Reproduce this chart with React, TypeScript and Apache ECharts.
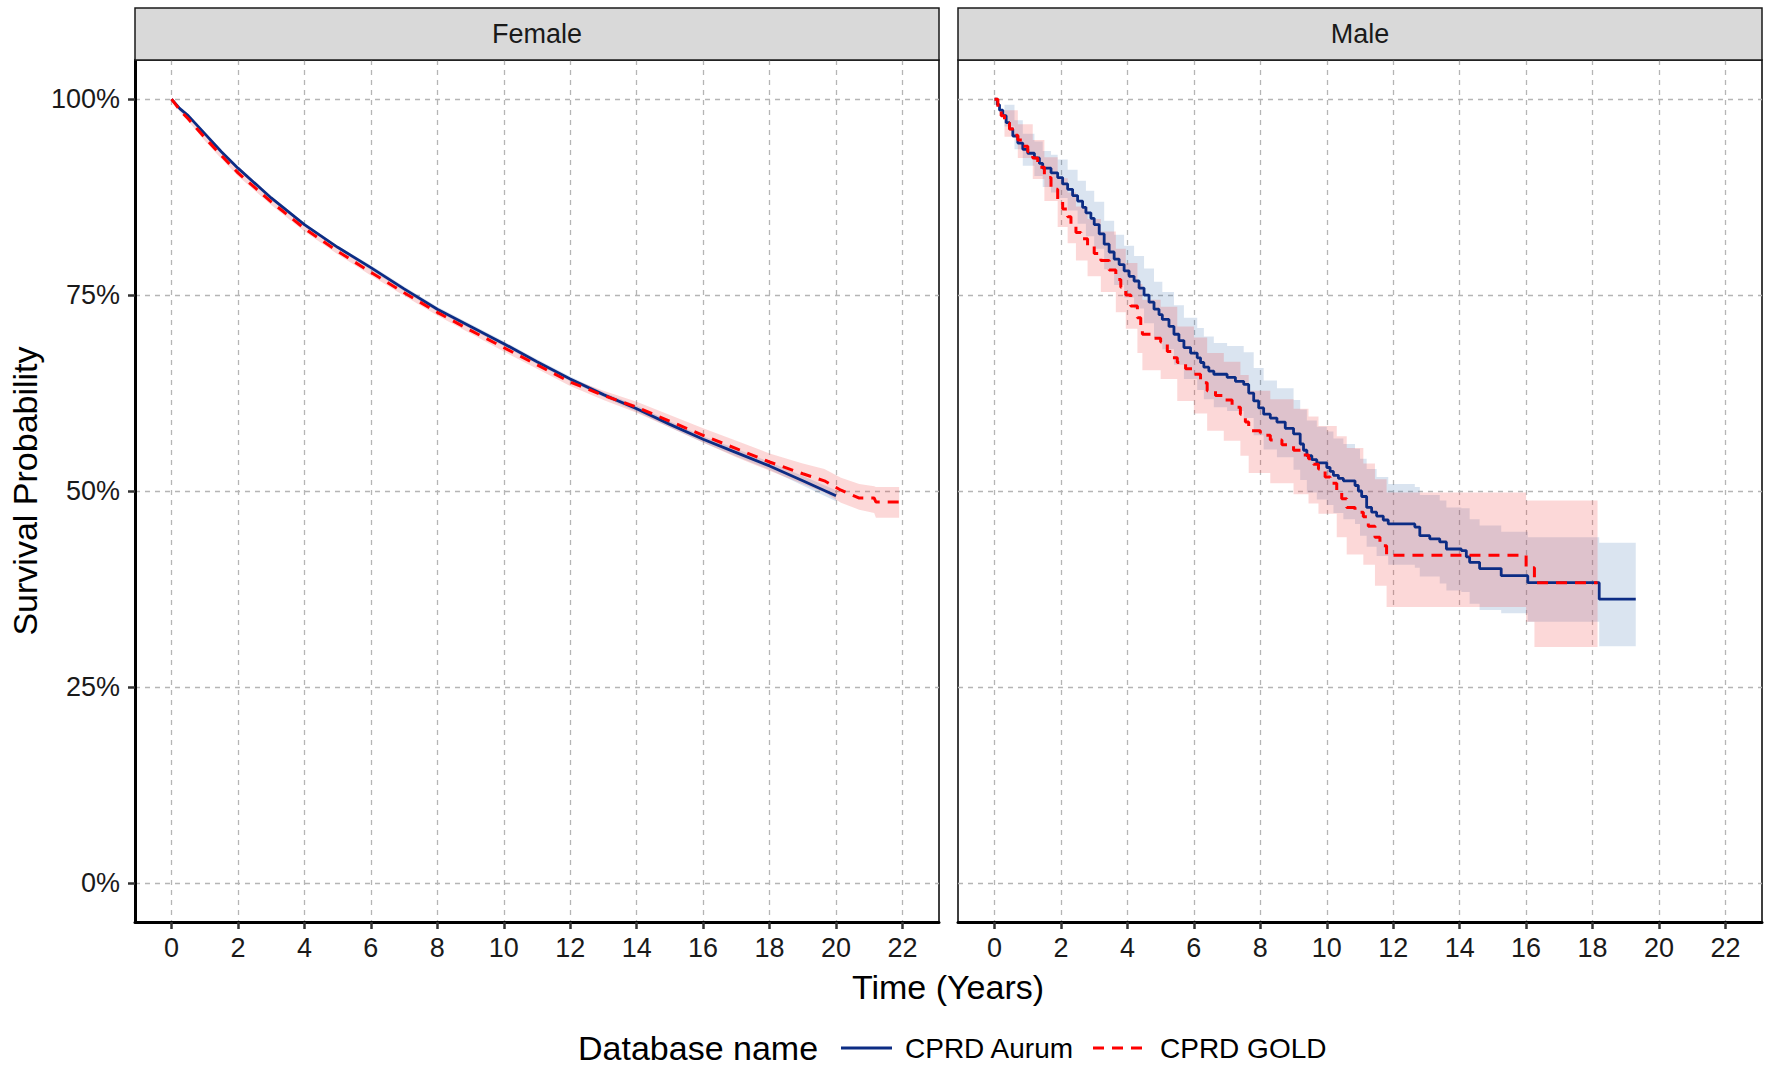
import React, { useEffect, useRef } from 'react';
import * as echarts from 'echarts';

const xTicks = [0, 2, 4, 6, 8, 10, 12, 14, 16, 18, 20, 22];
const yTicks = [0, 25, 50, 75, 100];
const panels = ['Female', 'Male'];
const seriesNames = ['CPRD Aurum', 'CPRD GOLD'];

// Female (smooth curves, dense events)
const femaleAurumTime = [0, 0.25, 0.5, 1, 1.5, 2, 3, 4, 5, 6, 7, 8, 9, 10, 11, 12, 13, 14, 15, 16, 17, 18, 19, 20];
const femaleAurumSurv = [100, 98.8, 97.9, 95.6, 93.3, 91.2, 87.4, 84.0, 81.1, 78.5, 75.8, 73.2, 71.0, 68.8, 66.5, 64.3, 62.3, 60.5, 58.5, 56.6, 54.9, 53.2, 51.3, 49.4];
const femaleAurumLower = [100, 98.7, 97.7, 95.4, 93.1, 91.0, 87.2, 83.8, 80.9, 78.2, 75.5, 72.9, 70.7, 68.5, 66.2, 64.0, 62.0, 60.1, 58.1, 56.2, 54.4, 52.7, 50.7, 48.7];
const femaleAurumUpper = [100, 98.9, 98.1, 95.8, 93.5, 91.4, 87.6, 84.2, 81.3, 78.8, 76.1, 73.5, 71.3, 69.1, 66.8, 64.6, 62.6, 60.9, 58.9, 57.0, 55.4, 53.7, 51.9, 50.1];

const femaleGoldTime = [0, 0.25, 0.5, 1, 1.5, 2, 3, 4, 5, 6, 7, 8, 9, 10, 11, 12, 13, 14, 15, 16, 17, 18, 19, 19.65, 20.15, 20.7, 21.15, 21.2, 21.9];
const femaleGoldSurv = [100, 98.6, 97.5, 95.1, 92.8, 90.6, 86.9, 83.5, 80.6, 77.9, 75.3, 72.8, 70.5, 68.3, 66.1, 63.9, 62.2, 60.7, 58.9, 57.1, 55.4, 53.7, 52.2, 51.3, 50.1, 49.1, 49.1, 48.6, 48.6];
const femaleGoldLower = [100, 98.4, 97.2, 94.7, 92.4, 90.2, 86.5, 83.1, 80.2, 77.5, 74.9, 72.4, 70.1, 67.8, 65.6, 63.4, 61.6, 60.0, 58.1, 56.2, 54.3, 52.6, 50.9, 49.8, 48.5, 47.6, 47.2, 46.6, 46.6];
const femaleGoldUpper = [100, 98.8, 97.8, 95.5, 93.2, 91.0, 87.3, 83.9, 81.0, 78.3, 75.7, 73.2, 70.9, 68.8, 66.6, 64.4, 62.8, 61.4, 59.7, 58.0, 56.4, 54.8, 53.5, 52.8, 51.7, 50.9, 50.6, 50.5, 50.5];

// Male Kaplan-Meier step curves
const maleAurumTime = [0, 0.08, 0.15, 0.25, 0.35, 0.45, 0.55, 0.7, 0.85, 1.0, 1.2, 1.35, 1.45, 1.7, 1.9, 2.05, 2.2, 2.35, 2.5, 2.65, 2.75, 2.9, 3.0, 3.15, 3.3, 3.45, 3.6, 3.75, 3.9, 4.05, 4.2, 4.35, 4.5, 4.65, 4.8, 4.95, 5.05, 5.25, 5.4, 5.55, 5.7, 5.9, 6.1, 6.2, 6.3, 6.45, 6.6, 7.0, 7.25, 7.5, 7.65, 7.8, 7.95, 8.1, 8.3, 8.5, 8.75, 9.0, 9.2, 9.3, 9.4, 9.55, 9.7, 10.0, 10.1, 10.2, 10.35, 10.5, 10.85, 10.95, 11.05, 11.2, 11.35, 11.5, 11.7, 11.85, 12.65, 12.8, 13.1, 13.4, 13.6, 14.05, 14.2, 14.3, 14.6, 15.25, 16.05, 18.2, 19.3];
const maleAurumSurv = [100, 99.3, 98.6, 97.9, 97.0, 96.2, 95.3, 94.4, 93.6, 93.1, 92.5, 91.8, 91.2, 90.6, 90.0, 89.2, 88.5, 87.7, 87.0, 86.2, 85.5, 84.8, 84.0, 82.8, 81.5, 80.5, 79.6, 78.9, 78.1, 77.4, 76.8, 75.9, 75.0, 74.1, 73.2, 72.5, 71.9, 71.0, 70.0, 69.2, 68.3, 67.6, 67.0, 66.4, 65.8, 65.3, 64.9, 64.5, 64.0, 63.6, 62.5, 61.5, 60.6, 59.8, 59.3, 58.8, 58.0, 57.3, 56.0, 55.2, 54.5, 54.0, 53.6, 53.0, 52.5, 52.0, 51.6, 51.3, 50.7, 50.0, 49.3, 47.9, 47.3, 46.8, 46.3, 45.8, 45.4, 44.3, 43.9, 43.5, 42.6, 42.4, 41.6, 40.9, 40.1, 39.2, 38.3, 36.2, 36.2];

const maleAurumCiTime = [0, 0.3, 0.6, 0.85, 1.2, 1.45, 1.7, 1.9, 2.2, 2.5, 2.75, 3.0, 3.3, 3.6, 3.9, 4.2, 4.5, 4.8, 5.05, 5.4, 5.7, 6.1, 6.3, 6.6, 7.0, 7.5, 7.8, 8.1, 8.5, 9.0, 9.2, 9.4, 9.7, 10.0, 10.2, 10.5, 10.85, 11.0, 11.2, 11.5, 11.85, 12.65, 12.8, 13.4, 13.6, 14.05, 14.3, 14.6, 15.25, 16.05, 18.2, 19.3];
const maleAurumLower = [100, 96.5, 93.6, 91.5, 90.2, 88.8, 88.1, 87.4, 85.8, 84.1, 82.5, 80.9, 78.3, 76.3, 74.7, 73.3, 71.4, 69.5, 68.1, 66.1, 64.3, 62.9, 61.7, 60.7, 60.2, 59.3, 57.1, 55.3, 54.3, 52.7, 51.4, 49.8, 48.9, 48.2, 47.2, 46.4, 45.8, 44.3, 42.9, 41.7, 40.6, 40.2, 39.1, 38.2, 37.3, 37.1, 35.6, 34.8, 34.4, 33.3, 30.2, 30.2];
const maleAurumUpper = [100, 99.3, 97.3, 95.6, 94.6, 93.4, 92.9, 92.3, 91.0, 89.6, 88.3, 86.9, 84.5, 82.7, 81.3, 80.0, 78.4, 76.7, 75.4, 73.7, 72.1, 70.8, 69.7, 68.9, 68.5, 67.7, 65.7, 64.1, 63.1, 61.6, 60.4, 59.0, 58.2, 57.6, 56.7, 56.0, 55.4, 54.1, 52.8, 51.8, 50.9, 50.5, 49.5, 48.8, 47.9, 47.8, 46.4, 45.6, 44.8, 44.1, 43.4, 43.4];

const maleGoldTime = [0, 0.1, 0.2, 0.3, 0.45, 0.6, 0.7, 0.85, 1.0, 1.15, 1.3, 1.5, 1.7, 1.9, 2.05, 2.2, 2.3, 2.45, 2.6, 2.8, 3.0, 3.2, 3.45, 3.65, 3.8, 3.95, 4.1, 4.3, 4.4, 4.45, 4.7, 5.0, 5.2, 5.35, 5.5, 5.75, 6.0, 6.2, 6.4, 6.65, 6.9, 7.15, 7.4, 7.55, 7.65, 8.0, 8.3, 8.65, 9.0, 9.25, 9.45, 9.6, 9.75, 9.95, 10.1, 10.3, 10.45, 10.6, 10.85, 11.1, 11.25, 11.45, 11.6, 11.8, 16.0, 16.25, 18.15];
const maleGoldSurv = [100, 98.8, 97.9, 97.0, 96.2, 95.4, 94.8, 94.0, 93.3, 92.5, 91.3, 90.0, 88.5, 87.0, 86.0, 85.0, 84.0, 83.0, 82.2, 81.2, 80.3, 79.4, 78.2, 77.0, 76.0, 75.0, 73.6, 72.1, 71.0, 70.0, 69.5, 69.0, 67.8, 67.0, 66.4, 65.6, 64.9, 63.8, 62.8, 62.2, 61.6, 60.7, 59.8, 58.8, 57.7, 57.1, 56.5, 55.9, 55.2, 54.6, 54.1, 53.4, 52.8, 51.8, 51.0, 50.0, 49.0, 47.9, 47.3, 46.7, 45.5, 44.1, 43.0, 41.8, 40.2, 38.3, 38.3];

const maleGoldCiTime = [0, 0.3, 0.7, 1.15, 1.5, 1.9, 2.2, 2.45, 2.8, 3.2, 3.65, 3.95, 4.3, 4.45, 5.0, 5.5, 6.0, 6.4, 6.9, 7.4, 7.65, 8.3, 9.0, 9.45, 9.75, 10.3, 10.6, 11.1, 11.45, 11.8, 16.0, 16.25, 18.15];
const maleGoldLower = [100, 95.2, 92.5, 89.8, 87.0, 83.7, 81.6, 79.4, 77.4, 75.4, 72.8, 70.7, 67.6, 65.4, 64.3, 61.5, 59.9, 57.7, 56.4, 54.5, 52.3, 51.0, 49.6, 48.4, 47.1, 44.1, 41.9, 40.6, 37.9, 35.2, 33.3, 30.1, 30.1];
const maleGoldUpper = [100, 98.6, 96.8, 94.8, 92.6, 89.9, 88.1, 86.3, 84.7, 83.1, 80.9, 79.1, 76.4, 74.4, 73.5, 71.0, 69.6, 67.6, 66.5, 64.8, 62.8, 61.7, 60.5, 59.5, 58.3, 57.0, 55.5, 53.5, 51.5, 49.8, 48.8, 48.8, 48.8];

const AURUM = '#0c2c84';
const GOLD = '#ff0000';
const AURUM_FILL = 'rgba(70,120,180,0.2)';
const GOLD_FILL = 'rgba(240,60,60,0.2)';
const FONT = '"Liberation Sans", Arial, sans-serif';

const PANEL_TOP = 60;
const PANEL_H = 862;
const PANEL_W = 804;
const PANEL_LEFTS = [135, 958];

function ribbon(idx: number, times: number[], lo: number[], hi: number[], color: string, step: boolean) {
  return {
    type: 'custom',
    xAxisIndex: idx,
    yAxisIndex: idx,
    z: 1,
    silent: true,
    clip: true,
    data: [[times[0], lo[0]]],
    renderItem: (_params: any, api: any) => {
      const up: number[][] = [];
      const dn: number[][] = [];
      for (let i = 0; i < times.length; i++) {
        if (step && i > 0) up.push(api.coord([times[i], hi[i - 1]]));
        up.push(api.coord([times[i], hi[i]]));
      }
      for (let i = times.length - 1; i >= 0; i--) {
        dn.push(api.coord([times[i], lo[i]]));
        if (step && i > 0) dn.push(api.coord([times[i], lo[i - 1]]));
      }
      return { type: 'polygon', shape: { points: up.concat(dn) }, style: { fill: color } };
    },
  };
}

function curve(idx: number, name: string, times: number[], surv: number[], color: string, dashed: boolean, step: boolean) {
  return {
    type: 'line',
    name,
    xAxisIndex: idx,
    yAxisIndex: idx,
    z: dashed ? 4 : 3,
    step: step ? 'end' : false,
    showSymbol: false,
    symbol: 'none',
    data: times.map((t, i) => [t, surv[i]]),
    lineStyle: dashed
      ? { color, width: 3, type: [11, 8] }
      : { color, width: 2.8 },
  };
}

export default function App() {
  const ref = useRef<HTMLDivElement>(null);
  useEffect(() => {
    if (!ref.current) return;
    const chart = echarts.init(ref.current, undefined, { renderer: 'svg' });

    const grids = PANEL_LEFTS.map((left) => ({
      left,
      top: PANEL_TOP,
      width: PANEL_W,
      height: PANEL_H,
      show: true,
      borderColor: '#000',
      borderWidth: 1.5,
      backgroundColor: '#fff',
      containLabel: false,
    }));

    const splitLine = { show: true, lineStyle: { color: '#b5b5b5', width: 1.3, type: [5, 5] } };

    const xAxes = [0, 1].map((i) => ({
      type: 'value',
      gridIndex: i,
      min: -1.1,
      max: 23.1,
      axisLine: { show: true, onZero: false, lineStyle: { color: '#000', width: 3 } },
      axisTick: { show: true, length: 7, customValues: xTicks, lineStyle: { color: '#333', width: 2.5 } },
      axisLabel: { show: true, customValues: xTicks, fontSize: 27, color: '#1a1a1a', margin: 12, fontFamily: FONT },
      splitLine,
    }));

    const yAxes = [0, 1].map((i) => ({
      type: 'value',
      gridIndex: i,
      min: -5,
      max: 105,
      axisLine: { show: i === 0, onZero: false, lineStyle: { color: '#000', width: 3 } },
      axisTick: { show: i === 0, length: 7, customValues: yTicks, lineStyle: { color: '#333', width: 2.5 } },
      axisLabel: {
        show: i === 0,
        customValues: yTicks,
        formatter: '{value}%',
        fontSize: 27,
        color: '#1a1a1a',
        margin: 15,
        fontFamily: FONT,
      },
      splitLine,
    }));

    const stripGraphics: any[] = [];
    PANEL_LEFTS.forEach((left, i) => {
      stripGraphics.push({
        type: 'rect',
        shape: { x: left, y: 8, width: PANEL_W, height: PANEL_TOP - 8 },
        style: { fill: '#d9d9d9', stroke: '#1a1a1a', lineWidth: 1.5 },
        z: 10,
      });
      stripGraphics.push({
        type: 'text',
        x: left + PANEL_W / 2,
        y: 34,
        style: { text: panels[i], fontSize: 27, fill: '#1a1a1a', align: 'center', verticalAlign: 'middle', fontFamily: FONT },
        z: 11,
      });
    });

    const legendY = 1048;
    const graphics = [
      ...stripGraphics,
      {
        type: 'text',
        x: 25,
        y: 491,
        rotation: Math.PI / 2,
        style: { text: 'Survival Probability', fontSize: 34, fill: '#000', align: 'center', verticalAlign: 'middle', fontFamily: FONT },
      },
      {
        type: 'text',
        x: 948,
        y: 987,
        style: { text: 'Time (Years)', fontSize: 34, fill: '#000', align: 'center', verticalAlign: 'middle', fontFamily: FONT },
      },
      {
        type: 'text',
        x: 578,
        y: legendY,
        style: { text: 'Database name', fontSize: 34, fill: '#000', align: 'left', verticalAlign: 'middle', fontFamily: FONT },
      },
      {
        type: 'line',
        shape: { x1: 841, y1: legendY, x2: 892, y2: legendY },
        style: { stroke: AURUM, lineWidth: 3 },
      },
      {
        type: 'text',
        x: 905,
        y: legendY,
        style: { text: seriesNames[0], fontSize: 28, fill: '#000', align: 'left', verticalAlign: 'middle', fontFamily: FONT },
      },
      {
        type: 'line',
        shape: { x1: 1093, y1: legendY, x2: 1144, y2: legendY },
        style: { stroke: GOLD, lineWidth: 3, lineDash: [11, 8] },
      },
      {
        type: 'text',
        x: 1160,
        y: legendY,
        style: { text: seriesNames[1], fontSize: 28, fill: '#000', align: 'left', verticalAlign: 'middle', fontFamily: FONT },
      },
    ];

    chart.setOption({
      animation: false,
      backgroundColor: '#fff',
      textStyle: { fontFamily: FONT },
      grid: grids,
      xAxis: xAxes,
      yAxis: yAxes,
      series: [
        ribbon(0, femaleAurumTime, femaleAurumLower, femaleAurumUpper, AURUM_FILL, false),
        ribbon(0, femaleGoldTime, femaleGoldLower, femaleGoldUpper, GOLD_FILL, false),
        ribbon(1, maleAurumCiTime, maleAurumLower, maleAurumUpper, AURUM_FILL, true),
        ribbon(1, maleGoldCiTime, maleGoldLower, maleGoldUpper, GOLD_FILL, true),
        curve(0, seriesNames[0], femaleAurumTime, femaleAurumSurv, AURUM, false, false),
        curve(0, seriesNames[1], femaleGoldTime, femaleGoldSurv, GOLD, true, false),
        curve(1, seriesNames[0], maleAurumTime, maleAurumSurv, AURUM, false, true),
        curve(1, seriesNames[1], maleGoldTime, maleGoldSurv, GOLD, true, true),
      ],
      graphic: graphics,
    });

    return () => chart.dispose();
  }, []);

  return (
    <div
      ref={ref}
      style={{ position: 'fixed', left: 0, top: 0, width: 1770, height: 1070, background: '#fff' }}
    />
  );
}
